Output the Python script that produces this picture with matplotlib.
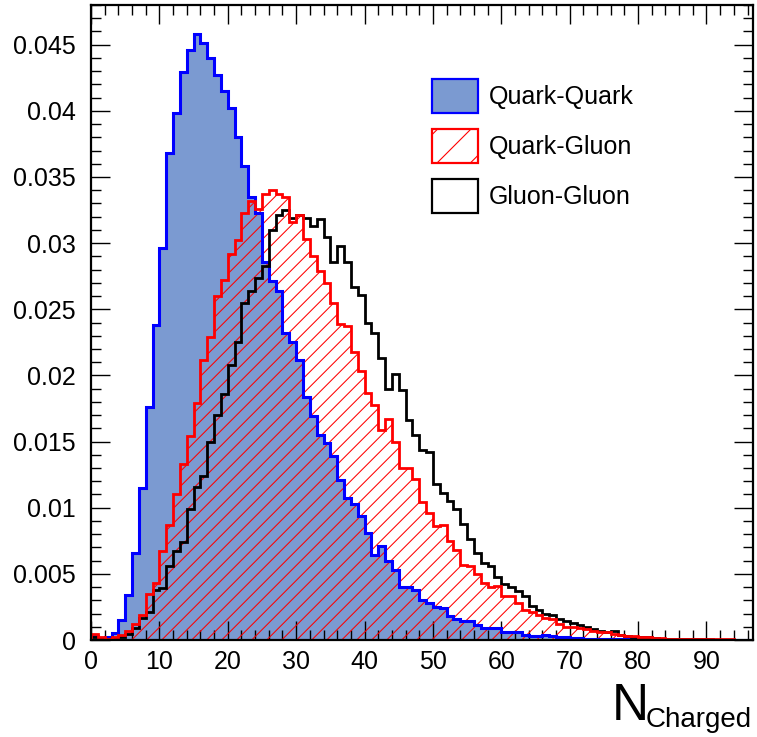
"""Charged-particle multiplicity for quark/gluon jet pairs (ROOT-style histogram)."""

import matplotlib

matplotlib.use("Agg")
import matplotlib.pyplot as plt
import matplotlib.patches as mpatches
from matplotlib.collections import LineCollection
from matplotlib.transforms import IdentityTransform
from matplotlib.ticker import MultipleLocator, FuncFormatter
import numpy as np

# bin edges: unit-width bins starting at 0
BIN_EDGES = list(range(0, 98))

QUARK_QUARK = [
    0.0003, 0.0001, 0.0002, 0.00055, 0.0015, 0.0034, 0.0066, 0.0115, 0.0176, 0.0238,
    0.0296, 0.0368, 0.0398, 0.0429, 0.0446, 0.0458, 0.0451, 0.0440, 0.0427, 0.0415,
    0.0402, 0.0380, 0.0358, 0.0335, 0.0323, 0.0286, 0.0271, 0.0264, 0.0232, 0.0225,
    0.0212, 0.0184, 0.0169, 0.0155, 0.0149, 0.0139, 0.0121, 0.0107, 0.0103, 0.0094,
    0.0081, 0.0064, 0.0071, 0.0060, 0.0053, 0.0040, 0.0040, 0.0038, 0.0030, 0.0028,
    0.0025, 0.0024, 0.0018, 0.0016, 0.0014, 0.0014, 0.0011, 0.0009, 0.0009, 0.0009,
    0.0006, 0.0006, 0.0006, 0.0004, 0.0003, 0.0003, 0.0004, 0.0003, 0.0002, 0.0002,
    0.00018, 0.00012, 0.0001, 0.0001, 0.00008, 0.00006, 0.00006, 0.00005, 0.00004, 0.00004,
    0.00003, 0.00003, 0.00003, 0.00002, 0.00002, 0.00002, 0.00002, 0.00001, 0.00001, 0.00001,
    0.00001, 0.00001, 0.00001, 0.00001, 0.00001, 0.00001, 0.00001,
]

QUARK_GLUON = [
    0.00045, 0.0002, 0.0001, 0.0002, 0.00035, 0.00065, 0.0012, 0.0019, 0.0035, 0.0043,
    0.0067, 0.0087, 0.0110, 0.0133, 0.0154, 0.0179, 0.0212, 0.0229, 0.0260, 0.0272,
    0.0292, 0.0302, 0.0323, 0.0332, 0.0326, 0.0337, 0.0340, 0.0337, 0.0335, 0.0316,
    0.0321, 0.0303, 0.0290, 0.0279, 0.0270, 0.0255, 0.0239, 0.0237, 0.0218, 0.0203,
    0.0187, 0.0178, 0.0159, 0.0167, 0.0150, 0.0130, 0.0130, 0.0122, 0.0104, 0.0096,
    0.0086, 0.0087, 0.0075, 0.0068, 0.0057, 0.0056, 0.0050, 0.0043, 0.0040, 0.0041,
    0.0033, 0.0033, 0.0028, 0.0023, 0.0021, 0.0019, 0.0017, 0.0016, 0.0012, 0.0010,
    0.0010, 0.0009, 0.0008, 0.0007, 0.0006, 0.0006, 0.00045, 0.0004, 0.0003, 0.0003,
    0.00025, 0.0002, 0.00015, 0.00015, 0.0001, 0.0001, 0.00006, 0.00006, 0.00005, 0.00005,
    0.00005, 0.00004, 0.00004, 0.00004, 0.00003, 0.00003, 0.00003,
]

GLUON_GLUON = [
    0.0002, 0.0001, 0.0001, 0.00015, 0.0002, 0.00045, 0.0009, 0.0017, 0.0021, 0.0038,
    0.0039, 0.0056, 0.0067, 0.0074, 0.0099, 0.0116, 0.0124, 0.0150, 0.0170, 0.0186,
    0.0208, 0.0225, 0.0255, 0.0264, 0.0274, 0.0283, 0.0310, 0.0321, 0.0325, 0.0319,
    0.0321, 0.0319, 0.0313, 0.0318, 0.0305, 0.0286, 0.0298, 0.0286, 0.0267, 0.0261,
    0.0240, 0.0232, 0.0213, 0.0190, 0.0201, 0.0189, 0.0166, 0.0155, 0.0144, 0.0142,
    0.0118, 0.0111, 0.0105, 0.0099, 0.0088, 0.0076, 0.0066, 0.0058, 0.0056, 0.0048,
    0.0042, 0.0040, 0.0037, 0.0033, 0.0026, 0.0023, 0.0020, 0.0019, 0.0016, 0.0014,
    0.0013, 0.0011, 0.0010, 0.0008, 0.0007, 0.0006, 0.0007, 0.0004, 0.0003, 0.00025,
    0.0002, 0.0002, 0.00015, 0.0001, 0.00005, 0.00005, 0.00005, 0.00005, 0.00004, 0.00004,
    0.00004, 0.00003, 0.00003, 0.00003, 0.00003, 0.00002, 0.00002,
]

SERIES_LABELS = ["Quark-Quark", "Quark-Gluon", "Gluon-Gluon"]

QQ_FILL = "#7b9ad1"
QQ_EDGE = "#0000ff"
QG_EDGE = "#ff0000"
GG_EDGE = "#000000"

plt.rcParams["font.family"] = ["Liberation Sans", "DejaVu Sans"]
plt.rcParams["hatch.linewidth"] = 0.8
plt.rcParams["hatch.color"] = QG_EDGE

fig = plt.figure(figsize=(7.57, 7.37), dpi=100)
ax = fig.add_axes([91 / 757, 97 / 737, 662 / 757, 635 / 737])

edges = np.array(BIN_EDGES, dtype=float)

# quark-quark: filled blue
ax.stairs(QUARK_QUARK, edges, fill=True, facecolor=QQ_FILL, linewidth=0, zorder=1)
ax.stairs(QUARK_QUARK, edges, color=QQ_EDGE, linewidth=2.2, zorder=3)

# quark-gluon: red diagonal hatching, drawn as pixel-space lines clipped to the histogram
qg_area = ax.stairs(QUARK_GLUON, edges, fill=True, facecolor="none", linewidth=0, zorder=2)
fig_w, fig_h = fig.bbox.width, fig.bbox.height
hatch_step = 15.0
offsets = np.arange(34.7 - hatch_step * 60, fig_w, hatch_step)
hatch_lines = LineCollection([[(c, 0), (c + fig_h, fig_h)] for c in offsets],
                             colors=QG_EDGE, linewidths=0.75,
                             transform=IdentityTransform(), zorder=2)
ax.add_collection(hatch_lines, autolim=False)
hatch_lines.set_clip_path(qg_area)
ax.stairs(QUARK_GLUON, edges, color=QG_EDGE, linewidth=2.0, zorder=5)

# gluon-gluon: black outline
ax.stairs(GLUON_GLUON, edges, color=GG_EDGE, linewidth=2.0, zorder=4)

ax.set_xlim(0, 96.8)
ax.set_ylim(0, 0.048)

ax.xaxis.set_major_locator(MultipleLocator(10))
ax.xaxis.set_minor_locator(MultipleLocator(2))
ax.yaxis.set_major_locator(MultipleLocator(0.005))
ax.yaxis.set_minor_locator(MultipleLocator(0.001))
ax.yaxis.set_major_formatter(FuncFormatter(lambda v, _: f"{v:g}"))

ax.tick_params(which="both", direction="in", top=True, right=True, width=1.0,
               labelsize=18)
ax.tick_params(which="major", length=14)
ax.tick_params(which="minor", length=7)
ax.tick_params(axis="y", pad=11)
ax.tick_params(axis="x", pad=7)
for spine in ax.spines.values():
    spine.set_linewidth(1.6)
    spine.set_zorder(6)

handles = [
    mpatches.Patch(facecolor=QQ_FILL, edgecolor=QQ_EDGE, linewidth=1.6),
    mpatches.Patch(facecolor="white", edgecolor=QG_EDGE, hatch="/", linewidth=1.6),
    mpatches.Patch(facecolor="white", edgecolor=GG_EDGE, linewidth=1.6),
]
ax.legend(handles, SERIES_LABELS, loc="upper left", bbox_to_anchor=(432 / 757, 1 - 79 / 737),
          bbox_transform=fig.transFigure, frameon=False, fontsize=18, borderpad=0,
          handlelength=1.84, handleheight=1.72, handletextpad=0.45, labelspacing=0.64,
          borderaxespad=0)

# axis title: large N with smaller "Charged" subscript, bottom right
fig.text(612 / 757, (737 - 720) / 737, "N", ha="left", va="baseline", fontsize=37)
fig.text(752 / 757, (737 - 727) / 737, "Charged", ha="right", va="baseline", fontsize=20)

fig.savefig("out.png", dpi=100)
